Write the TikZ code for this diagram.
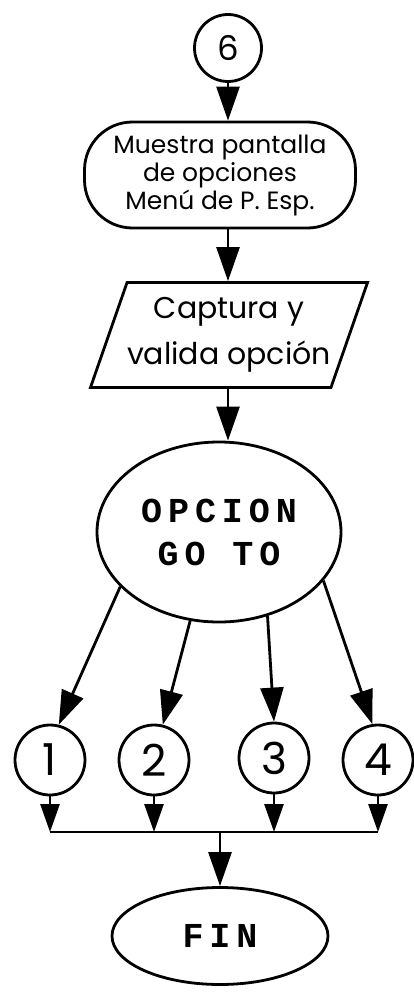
\documentclass[tikz,border=0pt]{standalone}
\usepackage{fontspec}
\setmainfont{Poppins}
\newfontfamily\capsfont[LetterSpace=17]{Liberation Mono}
\usetikzlibrary{arrows.meta,shapes.geometric}
\begin{document}
\begin{tikzpicture}[
      x=1pt, y=-1pt,
      line width=2.8pt,
      conn/.style={draw, circle, minimum size=70pt, inner sep=0pt, font=\fontsize{44}{44}\selectfont},
      menubox/.style={draw, rectangle, rounded corners=48pt, minimum width=271pt,
                 minimum height=106pt, align=center, inner sep=0pt,
                 font=\fontsize{25}{28}\selectfont},
      iobox/.style={draw, trapezium, trapezium left angle=64, trapezium right angle=116,
                 trapezium stretches body, minimum width=277pt, minimum height=105pt,
                 align=center, inner sep=0pt, font=\fontsize{30}{46}\selectfont},
      decide/.style={draw, ellipse, minimum width=244pt, minimum height=180pt,
                 align=center, inner sep=0pt, font=\capsfont\bfseries\fontsize{35}{43}\selectfont},
      endbox/.style={draw, ellipse, minimum width=216pt, minimum height=97pt,
                 inner sep=0pt, font=\capsfont\bfseries\fontsize{35}{35}\selectfont},
      a/.style={-{Triangle[length=34pt, width=23pt]}},
      b/.style={-{Triangle[length=28pt, width=19pt]}}
    ]
    \useasboundingbox (0,0) rectangle (414,995);

    % columna central
    \node[conn, minimum size=67pt, font=\fontsize{34}{34}\selectfont] (six) at (228,48) {6};
    \node[menubox] (menu) at (220,175) {Muestra pantalla\\ de opciones\\ Menú de P. Esp.};
    \node[iobox] (cap) at (229,335) {Captura y\\ valida opción};
    \node[decide] (opc) at (219,532) {OPCION\\ GO TO};
    \draw[a] (six.south) -- (six.south |- menu.north);
    \draw[a] (six.south |- menu.south) -- (six.south |- cap.north);
    \draw[a] (six.south |- cap.south) -- (six.south |- opc.north);

    % opciones
    \node[conn] (o1) at (50,760) {1};
    \node[conn] (o2) at (154,760) {2};
    \node[conn] (o3) at (274,758) {3};
    \node[conn] (o4) at (378,760) {4};
    \draw[a] (opc.209) -- (o1.76);
    \draw[a] (opc.252) -- (o2.76);
    \draw[a] (opc.300) -- (o3.north);
    \draw[a] (opc.335) -- (o4.99);

    % union
    \coordinate (bus) at (0,832);
    \coordinate (j1) at (o1.south |- bus);
    \coordinate (j4) at (o4.south |- bus);
    \node[endbox] (fin) at (220,936) {FIN};
    \draw[b] (o1.south) -- (j1);
    \draw[b] (o2.south) -- (o2.south |- bus);
    \draw[b] (o3.south) -- (o3.south |- bus);
    \draw[b] (o4.south) -- (j4);
    \draw (j1) -- (j4);
    \draw[a] (fin.north |- bus) -- (fin.north);
  \end{tikzpicture}
\end{document}
